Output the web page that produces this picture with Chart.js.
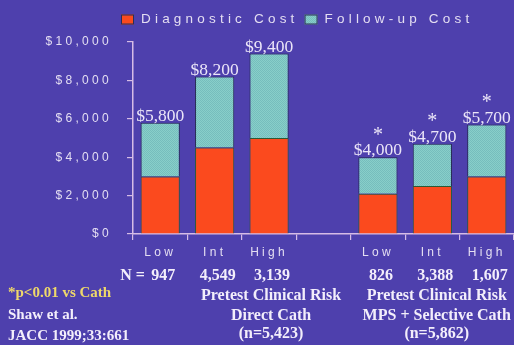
<!DOCTYPE html>
<html><head><meta charset="utf-8">
<script src="https://cdn.jsdelivr.net/npm/chart.js@4"></script>
<style>html,body{margin:0;padding:0;background:#4e40ad;}canvas{display:block}</style>
</head><body>
<canvas id="c" width="514" height="345"></canvas>
<script>
// ---- data ----
const categories = ['Low', 'Int', 'High', '', 'Low', 'Int', 'High'];
const diagnosticCost = [3000, 4500, 5000, null, 2100, 2500, 3000];
const followUpCost = [2800, 3700, 4400, null, 1900, 2200, 2700];
const totalLabels = ['$5,800', '$8,200', '$9,400', '', '$4,000', '$4,700', '$5,700'];
const significant = [false, false, false, false, true, true, true];
const nCounts = ['947', '4,549', '3,139', '', '826', '3,388', '1,607'];
const yTickValues = [0, 2000, 4000, 6000, 8000, 10000];
const seriesNames = ['Diagnostic Cost', 'Follow-up Cost'];
const group1Title = ['Pretest Clinical Risk', 'Direct Cath', '(n=5,423)'];
const group2Title = ['Pretest Clinical Risk', 'MPS + Selective Cath', '(n=5,862)'];
const footNote = '*p<0.01 vs Cath';
const citation = ['Shaw et al.', 'JACC 1999;33:661'];

// ---- styles ----
const BG = '#4e40ad';
const RED = '#fb4a1e';
const AXIS = '#d6bce6';
const TICKTXT = '#e4def2';
const WHITE = '#f3eefb';
const SERIF = '"Liberation Serif", "Times New Roman", serif';
const SANS = '"Liberation Sans", Arial, sans-serif';

const canvas = document.getElementById('c');
const ctx = canvas.getContext('2d');

function tealPattern() {
  const p = document.createElement('canvas');
  p.width = 2; p.height = 2;
  const x = p.getContext('2d');
  x.fillStyle = '#88cfc9'; x.fillRect(0, 0, 2, 2);
  x.fillStyle = '#76bdbd';
  x.fillRect(0, 0, 1, 1); x.fillRect(1, 1, 1, 1);
  return ctx.createPattern(p, 'repeat');
}
const TEAL = tealPattern();

const deco = {
  id: 'deco',
  beforeLayout(chart) { chart.ctx.letterSpacing = '3.3px'; },
  beforeDraw(chart) {
    const c = chart.ctx;
    c.save();
    c.fillStyle = BG;
    c.fillRect(0, 0, chart.width, chart.height);
    c.restore();
    c.letterSpacing = '3.3px';
  },
  afterDatasetsDraw(chart) {
    const c = chart.ctx;
    const meta = chart.getDatasetMeta(1);
    c.save();
    c.letterSpacing = '0px';
    c.textAlign = 'center';
    c.textBaseline = 'alphabetic';
    c.fillStyle = '#ebe5f8';
    meta.data.forEach((bar, i) => {
      if (!totalLabels[i]) return;
      c.font = '17.5px ' + SERIF;
      c.fillText(totalLabels[i], bar.x, bar.y - 2);
      if (significant[i]) {
        c.font = '20px ' + SERIF;
        c.fillText('*', bar.x, bar.y - 16.5);
      }
    });
    c.restore();
  },
  afterDraw(chart) {
    const c = chart.ctx;
    const xs = chart.scales.x;
    c.save();
    // legend
    c.font = '13.5px ' + SANS;
    c.letterSpacing = '4.2px';
    c.textBaseline = 'middle';
    c.textAlign = 'left';
    let lx = 121; const ly = 19.5;
    [RED, TEAL].forEach((col, i) => {
      c.fillStyle = col;
      c.fillRect(lx, ly - 5, 13, 10);
      c.strokeStyle = '#2a2f55'; c.lineWidth = 1;
      c.strokeRect(lx + 0.5, ly - 4.5, 12, 9);
      lx += 20;
      c.fillStyle = TICKTXT;
      c.fillText(seriesNames[i], lx, ly);
      lx += c.measureText(seriesNames[i]).width + 6;
    });
    // N row
    c.letterSpacing = '0px';
    c.textBaseline = 'alphabetic';
    c.fillStyle = WHITE;
    c.font = 'bold 16px ' + SERIF;
    c.textAlign = 'left';
    c.fillText('N =', xs.getPixelForValue(0) - 40, 280);
    c.textAlign = 'center';
    nCounts.forEach((n, i) => { if (n) c.fillText(n, xs.getPixelForValue(i) + 3, 280); });
    // group titles
    const g1 = xs.getPixelForValue(2) + 2;
    const g2 = xs.getPixelForValue(5.08);
    const rows = [300, 320, 338];
    group1Title.forEach((t, k) => c.fillText(t, g1, rows[k]));
    group2Title.forEach((t, k) => c.fillText(t, g2, rows[k]));
    // footnote & citation
    c.textAlign = 'left';
    c.font = 'bold 15px ' + SERIF;
    c.fillStyle = '#efd86a';
    c.fillText(footNote, 8, 297);
    c.fillStyle = WHITE;
    c.fillText(citation[0], 8, 319);
    c.fillText(citation[1], 8, 340);
    c.restore();
  }
};

new Chart(canvas, {
  type: 'bar',
  data: {
    labels: categories,
    datasets: [
      { label: seriesNames[0], data: diagnosticCost, backgroundColor: RED, borderColor: '#2c5a36', borderWidth: 1, borderSkipped: 'bottom' },
      { label: seriesNames[1], data: followUpCost, backgroundColor: TEAL, borderColor: '#262c50', borderWidth: 1, borderSkipped: 'bottom' }
    ]
  },
  options: {
    responsive: false,
    animation: false,
    devicePixelRatio: 1,
    layout: { padding: { top: 42, left: 0, right: 0, bottom: 0 } },
    datasets: { bar: { categoryPercentage: 1, barPercentage: 0.72 } },
    plugins: { legend: { display: false }, tooltip: { enabled: false } },
    scales: {
      x: {
        stacked: true,
        offset: true,
        grid: { drawOnChartArea: false, drawTicks: true, tickLength: 6, color: AXIS, lineWidth: 1.2, offset: true },
        border: { display: true, color: AXIS, width: 1.5 },
        ticks: { color: TICKTXT, font: { family: SANS, size: 12 }, padding: 5, maxRotation: 0, autoSkip: false },
        afterFit(s) { s.height = 111; }
      },
      y: {
        stacked: true,
        min: 0, max: 10000,
        afterBuildTicks(s) { s.ticks = yTickValues.map(v => ({ value: v })); },
        grid: { drawOnChartArea: false, drawTicks: true, tickLength: 6, color: AXIS, lineWidth: 1.2 },
        border: { display: true, color: AXIS, width: 1.5 },
        ticks: { color: TICKTXT, font: { family: SANS, size: 12 }, padding: 15,
                 callback: v => '$' + Number(v).toLocaleString('en-US') },
        afterFit(s) { s.width = 133; }
      }
    }
  },
  plugins: [deco]
});
</script>
</body></html>
